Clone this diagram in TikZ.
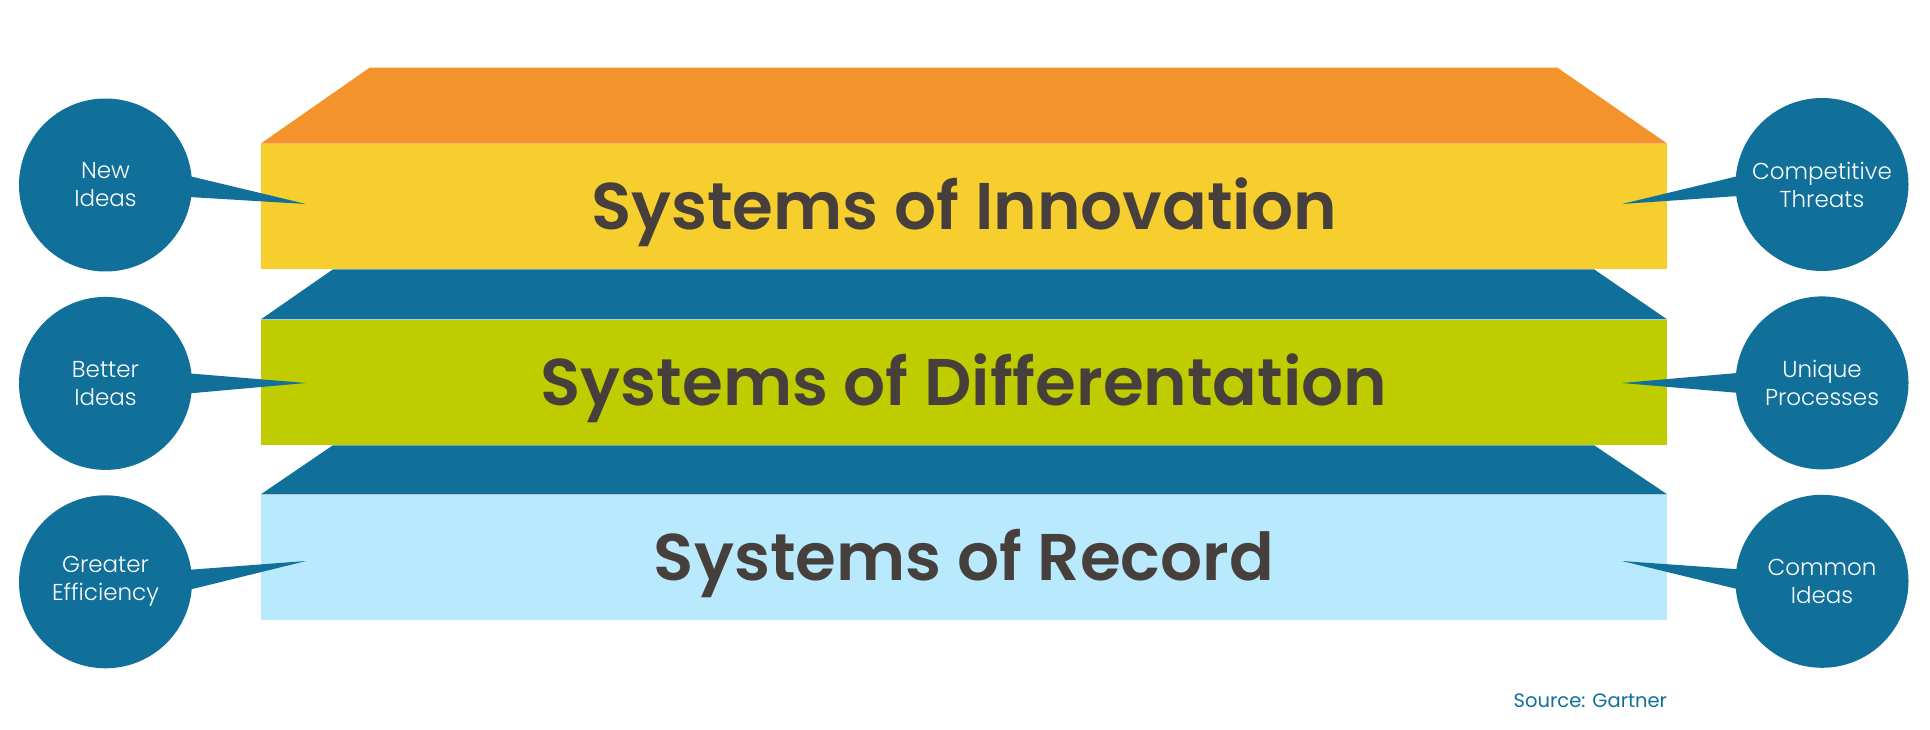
\documentclass[tikz,border=0pt]{standalone}
\usepackage{fontspec}
\setmainfont{Poppins}[BoldFont=* SemiBold]
\newfontfamily\lightfont{Poppins Light}
\usetikzlibrary{positioning, calc}
\definecolor{topOrange}{HTML}{F4932C}
\definecolor{frontYellow}{HTML}{F6CE2E}
\definecolor{frontGreen}{HTML}{BFCD00}
\definecolor{frontSky}{HTML}{B9E9FC}
\definecolor{gartnerBlue}{HTML}{10709A}
\definecolor{layerText}{HTML}{463F3C}
\tikzstyle{layer} = [rectangle, minimum width=1406pt, minimum height=125.5pt, inner sep=0pt, text height=46pt, text depth=0pt, text=layerText, font=\fontsize{66}{78}\selectfont\bfseries]
\tikzstyle{bevel} = [fill=gartnerBlue]
\tikzstyle{bubble} = [circle, fill=gartnerBlue, minimum size=173pt, inner sep=0pt, text=white, align=center, font=\lightfont\fontsize{23}{28}\selectfont]
\tikzstyle{pointer} = [fill=gartnerBlue]

\begin{document}
\begin{tikzpicture}[x=1pt, y=-1pt]
		\useasboundingbox (0,0) rectangle (1930,730);
		\node (innov) [layer, fill=frontYellow] at (964,206.5) {Systems of Innovation};
		\node (differ) [layer, fill=frontGreen, below = 50pt of innov] {Systems of Differentation};
		\node (record) [layer, fill=frontSky, below = 49pt of differ] {Systems of Record};
		\fill [fill=topOrange] (innov.north west) -- ++(109,-76) -- ($(innov.north east)+(-110,-76)$) -- (innov.north east) -- cycle;
		\fill [bevel] (differ.north west) -- ($(innov.south west)+(72,0)$) -- ($(innov.south east)+(-73,0)$) -- (differ.north east) -- cycle;
		\fill [bevel] (record.north west) -- ($(differ.south west)+(72,0)$) -- ($(differ.south east)+(-73,0)$) -- (record.north east) -- cycle;
		\node (new) [bubble] at (105.5,185) {New\\Ideas};
		\node (better) [bubble, below = 25pt of new] {Better\\Ideas};
		\node (greater) [bubble, below = 25pt of better] {Greater\\Efficiency};
		\node (compet) [bubble] at (1822,184.5) {Competitive\\Threats};
		\node (unique) [bubble, below = 25pt of compet] {Unique\\Processes};
		\node (common) [bubble, below = 25pt of unique] {Common\\Ideas};
		\coordinate (new_tip) at (306,204);
		\coordinate (better_tip) at (306,383);
		\coordinate (greater_tip) at (306,561);
		\coordinate (compet_tip) at (1622,204);
		\coordinate (unique_tip) at (1622,383);
		\coordinate (common_tip) at (1622,561);
		\fill [pointer] ([xshift=-3pt, yshift=9pt]new.east) -- (new_tip) -- ([xshift=-3pt, yshift=-12pt]new.east) -- cycle;
		\fill [pointer] ([xshift=-3pt, yshift=10pt]better.east) -- (better_tip) -- ([xshift=-3pt, yshift=-10pt]better.east) -- cycle;
		\fill [pointer] ([xshift=-3pt, yshift=12pt]greater.east) -- (greater_tip) -- ([xshift=-3pt, yshift=-8pt]greater.east) -- cycle;
		\fill [pointer] ([xshift=3pt, yshift=8.5pt]compet.west) -- (compet_tip) -- ([xshift=3pt, yshift=-11.5pt]compet.west) -- cycle;
		\fill [pointer] ([xshift=3pt, yshift=10pt]unique.west) -- (unique_tip) -- ([xshift=3pt, yshift=-10pt]unique.west) -- cycle;
		\fill [pointer] ([xshift=3pt, yshift=12pt]common.west) -- (common_tip) -- ([xshift=3pt, yshift=-8pt]common.west) -- cycle;
		\node (source) [anchor=base east, inner sep=0pt, text=gartnerBlue, font=\fontsize{19.5}{23}\selectfont] at ($(record.south east)+(0,87)$) {Source: Gartner};
\end{tikzpicture}
\end{document}
